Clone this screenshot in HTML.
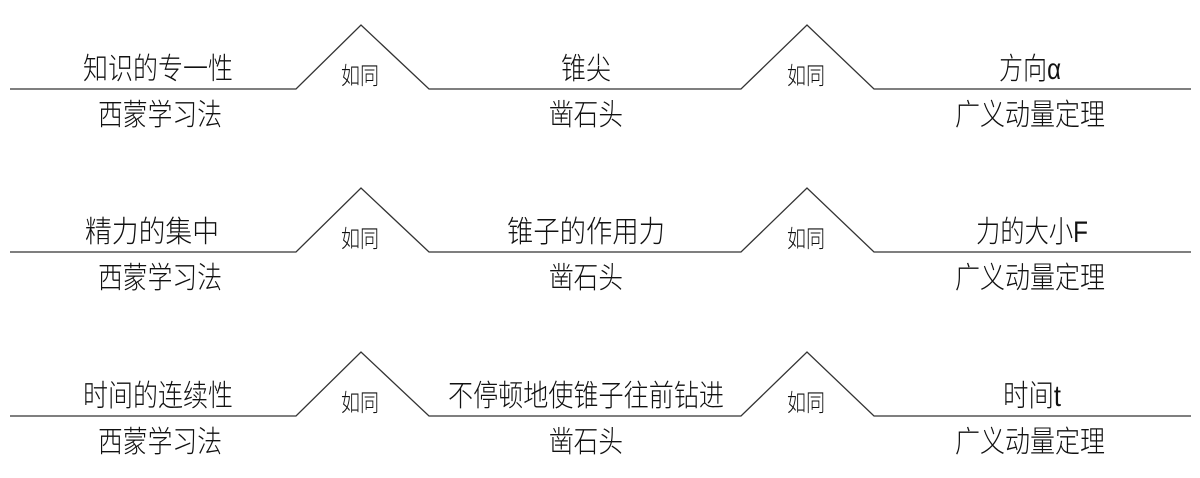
<!DOCTYPE html>
<html><head><meta charset="utf-8"><style>html,body{margin:0;padding:0;background:#fff;}svg{display:block}</style></head>
<body>
<svg width="1200" height="478" viewBox="0 0 1200 478" xmlns="http://www.w3.org/2000/svg" font-family="'Liberation Sans','Noto Sans CJK SC',sans-serif" fill="#111">
<g stroke="#333" stroke-width="1.3" fill="none">
<polyline points="10,89 296,89 361,25 429,89 741,89 807,25 874,89 1191,89"/>
<polyline points="10,252 296,252 361,188 429,252 741,252 807,188 874,252 1191,252"/>
<polyline points="10,416 296,416 361,352 429,416 741,416 807,352 874,416 1191,416"/>
</g>
<g font-size="30" font-weight="300" text-anchor="middle">
<text x="158" y="79" textLength="150" lengthAdjust="spacingAndGlyphs">知识的专一性</text>
<text x="160" y="125" textLength="124" lengthAdjust="spacingAndGlyphs">西蒙学习法</text>
<text x="586" y="79" textLength="50" lengthAdjust="spacingAndGlyphs">锥尖</text>
<text x="586" y="125" textLength="74" lengthAdjust="spacingAndGlyphs">凿石头</text>
<text x="1030" y="79" textLength="62" lengthAdjust="spacingAndGlyphs">方向α</text>
<text x="1030" y="125" textLength="150" lengthAdjust="spacingAndGlyphs">广义动量定理</text>

<text x="152" y="242" textLength="134" lengthAdjust="spacingAndGlyphs">精力的集中</text>
<text x="160" y="288" textLength="124" lengthAdjust="spacingAndGlyphs">西蒙学习法</text>
<text x="586" y="242" textLength="158" lengthAdjust="spacingAndGlyphs">锥子的作用力</text>
<text x="586" y="288" textLength="74" lengthAdjust="spacingAndGlyphs">凿石头</text>
<text x="1032" y="242" textLength="112" lengthAdjust="spacingAndGlyphs">力的大小F</text>
<text x="1030" y="288" textLength="150" lengthAdjust="spacingAndGlyphs">广义动量定理</text>

<text x="158" y="406" textLength="150" lengthAdjust="spacingAndGlyphs">时间的连续性</text>
<text x="160" y="452" textLength="124" lengthAdjust="spacingAndGlyphs">西蒙学习法</text>
<text x="586" y="406" textLength="276" lengthAdjust="spacingAndGlyphs">不停顿地使锥子往前钻进</text>
<text x="586" y="452" textLength="74" lengthAdjust="spacingAndGlyphs">凿石头</text>
<text x="1032" y="406" textLength="58" lengthAdjust="spacingAndGlyphs">时间t</text>
<text x="1030" y="452" textLength="150" lengthAdjust="spacingAndGlyphs">广义动量定理</text>
</g>
<g font-size="24" font-weight="300" text-anchor="middle">
<text x="360" y="84" textLength="38" lengthAdjust="spacingAndGlyphs">如同</text>
<text x="806" y="84" textLength="38" lengthAdjust="spacingAndGlyphs">如同</text>
<text x="360" y="247" textLength="38" lengthAdjust="spacingAndGlyphs">如同</text>
<text x="806" y="247" textLength="38" lengthAdjust="spacingAndGlyphs">如同</text>
<text x="360" y="411" textLength="38" lengthAdjust="spacingAndGlyphs">如同</text>
<text x="806" y="411" textLength="38" lengthAdjust="spacingAndGlyphs">如同</text>
</g>
</svg>
</body></html>
